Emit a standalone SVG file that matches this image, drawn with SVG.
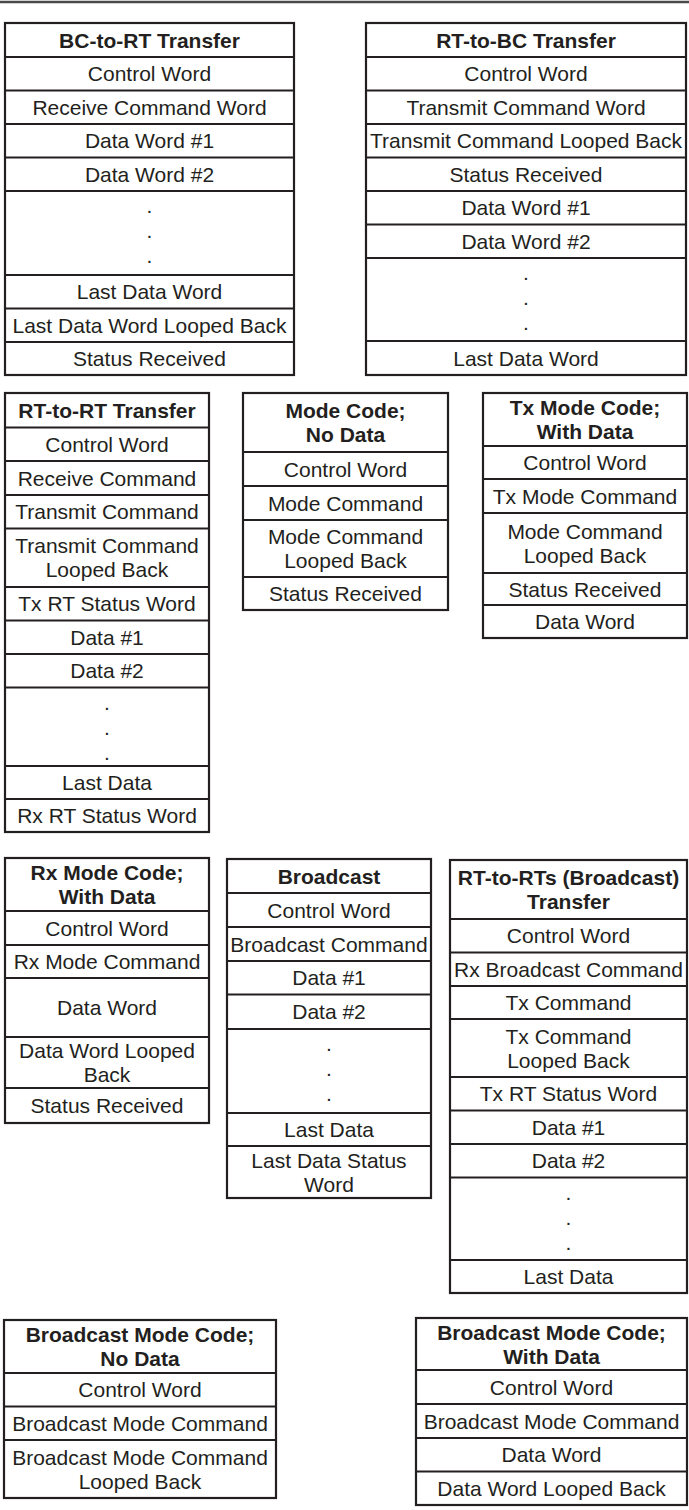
<svg xmlns="http://www.w3.org/2000/svg" width="689" height="1510" viewBox="0 0 689 1510">
<style>
.box{fill:#fff;stroke:#231f20;stroke-width:2.2}
.sep{stroke:#231f20;stroke-width:2.2;fill:none}
.rule{stroke:#4a4a4a;stroke-width:2.5}
text{font-family:"Liberation Sans",Arial,Helvetica,sans-serif;font-size:21px;fill:#231f20;text-anchor:middle}
.h{font-weight:bold}
</style>
<rect width="689" height="1510" fill="#fff"/>
<line class="rule" x1="0" y1="2" x2="689" y2="2"/>

<g id="bc-to-rt">
<rect class="box" x="5" y="23" width="289" height="352"/>
<path class="sep" d="M5 57H294M5 90.5H294M5 124H294M5 157.5H294M5 191H294M5 275H294M5 308.5H294M5 342H294"/>
<text class="h" x="149.5" y="47.5">BC-to-RT Transfer</text>
<text x="149.5" y="81.25">Control Word</text>
<text x="149.5" y="114.75">Receive Command Word</text>
<text x="149.5" y="148.25">Data Word #1</text>
<text x="149.5" y="181.75">Data Word #2</text>
<text x="149.5" y="213">.</text>
<text x="149.5" y="238">.</text>
<text x="149.5" y="263">.</text>
<text x="149.5" y="299.25">Last Data Word</text>
<text x="149.5" y="332.75">Last Data Word Looped Back</text>
<text x="149.5" y="366">Status Received</text>
</g>

<g id="rt-to-bc">
<rect class="box" x="366" y="23" width="320" height="352"/>
<path class="sep" d="M366 57H686M366 90.5H686M366 124H686M366 157.5H686M366 191H686M366 224.5H686M366 258H686M366 341H686"/>
<text class="h" x="526" y="47.5">RT-to-BC Transfer</text>
<text x="526" y="81.25">Control Word</text>
<text x="526" y="114.75">Transmit Command Word</text>
<text x="526" y="148.25">Transmit Command Looped Back</text>
<text x="526" y="181.75">Status Received</text>
<text x="526" y="215.25">Data Word #1</text>
<text x="526" y="248.75">Data Word #2</text>
<text x="526" y="280">.</text>
<text x="526" y="305">.</text>
<text x="526" y="330">.</text>
<text x="526" y="365.5">Last Data Word</text>
</g>

<g id="rt-to-rt">
<rect class="box" x="5" y="393" width="204" height="439"/>
<path class="sep" d="M5 427.5H209M5 461H209M5 495H209M5 528.5H209M5 587H209M5 620.5H209M5 654H209M5 687.5H209M5 766H209M5 799H209"/>
<text class="h" x="107" y="417.75">RT-to-RT Transfer</text>
<text x="107" y="451.75">Control Word</text>
<text x="107" y="485.5">Receive Command</text>
<text x="107" y="519.25">Transmit Command</text>
<text x="107" y="553.25">Transmit Command</text>
<text x="107" y="577.25">Looped Back</text>
<text x="107" y="611.25">Tx RT Status Word</text>
<text x="107" y="644.75">Data #1</text>
<text x="107" y="678.25">Data #2</text>
<text x="107" y="709.5">.</text>
<text x="107" y="734.5">.</text>
<text x="107" y="759.5">.</text>
<text x="107" y="790">Last Data</text>
<text x="107" y="823">Rx RT Status Word</text>
</g>

<g id="mode-code-no-data">
<rect class="box" x="243" y="393" width="205" height="217"/>
<path class="sep" d="M243 452H448M243 486H448M243 520H448M243 577H448"/>
<text class="h" x="345.5" y="418">Mode Code;</text>
<text class="h" x="345.5" y="442">No Data</text>
<text x="345.5" y="476.5">Control Word</text>
<text x="345.5" y="510.5">Mode Command</text>
<text x="345.5" y="544">Mode Command</text>
<text x="345.5" y="568">Looped Back</text>
<text x="345.5" y="601">Status Received</text>
</g>

<g id="tx-mode-code-with-data">
<rect class="box" x="483" y="393" width="204" height="245"/>
<path class="sep" d="M483 446H687M483 479H687M483 513H687M483 573H687M483 605H687"/>
<text class="h" x="585" y="415">Tx Mode Code;</text>
<text class="h" x="585" y="439">With Data</text>
<text x="585" y="470">Control Word</text>
<text x="585" y="503.5">Tx Mode Command</text>
<text x="585" y="538.5">Mode Command</text>
<text x="585" y="562.5">Looped Back</text>
<text x="585" y="596.5">Status Received</text>
<text x="585" y="629">Data Word</text>
</g>

<g id="rx-mode-code-with-data">
<rect class="box" x="5" y="858" width="204" height="265"/>
<path class="sep" d="M5 911H209M5 945H209M5 978H209M5 1037H209M5 1088H209"/>
<text class="h" x="107" y="880">Rx Mode Code;</text>
<text class="h" x="107" y="904">With Data</text>
<text x="107" y="935.5">Control Word</text>
<text x="107" y="969">Rx Mode Command</text>
<text x="107" y="1015">Data Word</text>
<text x="107" y="1058">Data Word Looped</text>
<text x="107" y="1082">Back</text>
<text x="107" y="1113">Status Received</text>
</g>

<g id="broadcast">
<rect class="box" x="227" y="859" width="204" height="339"/>
<path class="sep" d="M227 893H431M227 927H431M227 961H431M227 994.5H431M227 1029H431M227 1113H431M227 1146H431"/>
<text class="h" x="329" y="883.5">Broadcast</text>
<text x="329" y="917.5">Control Word</text>
<text x="329" y="951.5">Broadcast Command</text>
<text x="329" y="985.25">Data #1</text>
<text x="329" y="1019.25">Data #2</text>
<text x="329" y="1051">.</text>
<text x="329" y="1076">.</text>
<text x="329" y="1101">.</text>
<text x="329" y="1137">Last Data</text>
<text x="329" y="1167.5">Last Data Status</text>
<text x="329" y="1191.5">Word</text>
</g>

<g id="rt-to-rts-broadcast">
<rect class="box" x="450" y="860" width="237" height="433"/>
<path class="sep" d="M450 919H687M450 952.5H687M450 986H687M450 1019H687M450 1077H687M450 1110.5H687M450 1144H687M450 1177.5H687M450 1260H687"/>
<text class="h" x="568.5" y="885">RT-to-RTs (Broadcast)</text>
<text class="h" x="568.5" y="909">Transfer</text>
<text x="568.5" y="943.25">Control Word</text>
<text x="568.5" y="976.75">Rx Broadcast Command</text>
<text x="568.5" y="1010">Tx Command</text>
<text x="568.5" y="1043.5">Tx Command</text>
<text x="568.5" y="1067.5">Looped Back</text>
<text x="568.5" y="1101.25">Tx RT Status Word</text>
<text x="568.5" y="1134.75">Data #1</text>
<text x="568.5" y="1168.25">Data #2</text>
<text x="568.5" y="1199.5">.</text>
<text x="568.5" y="1224.5">.</text>
<text x="568.5" y="1249.5">.</text>
<text x="568.5" y="1284">Last Data</text>
</g>

<g id="broadcast-mode-code-no-data">
<rect class="box" x="4" y="1320" width="272" height="178"/>
<path class="sep" d="M4 1373H276M4 1406.5H276M4 1440H276"/>
<text class="h" x="140" y="1342">Broadcast Mode Code;</text>
<text class="h" x="140" y="1366">No Data</text>
<text x="140" y="1397.25">Control Word</text>
<text x="140" y="1430.75">Broadcast Mode Command</text>
<text x="140" y="1464.5">Broadcast Mode Command</text>
<text x="140" y="1488.5">Looped Back</text>
</g>

<g id="broadcast-mode-code-with-data">
<rect class="box" x="416" y="1318" width="271" height="187"/>
<path class="sep" d="M416 1370H687M416 1404H687M416 1438H687M416 1471.5H687"/>
<text class="h" x="551.5" y="1339.5">Broadcast Mode Code;</text>
<text class="h" x="551.5" y="1363.5">With Data</text>
<text x="551.5" y="1394.5">Control Word</text>
<text x="551.5" y="1428.5">Broadcast Mode Command</text>
<text x="551.5" y="1462.25">Data Word</text>
<text x="551.5" y="1495.75">Data Word Looped Back</text>
</g>
</svg>
